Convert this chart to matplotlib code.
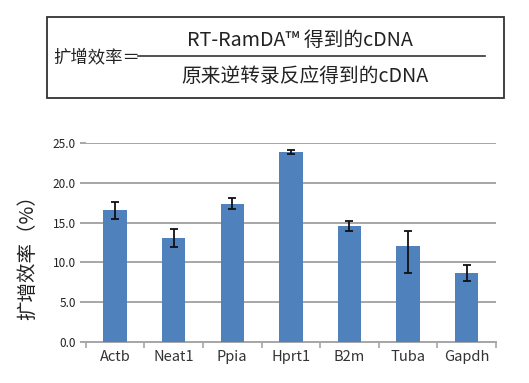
import matplotlib
matplotlib.use("Agg")
import matplotlib.pyplot as plt
from matplotlib.patches import Rectangle
from matplotlib.lines import Line2D
from matplotlib.ticker import FixedLocator

plt.rcParams["font.family"] = ["Noto Sans CJK SC", "DejaVu Sans"]

genes = ["Actb", "Neat1", "Ppia", "Hprt1", "B2m", "Tuba", "Gapdh"]
efficiency = [16.6, 13.1, 17.4, 23.9, 14.6, 12.0, 8.7]
err_low = [1.1, 1.15, 0.7, 0.3, 0.6, 3.4, 1.0]
err_high = [1.05, 1.15, 0.7, 0.3, 0.6, 1.9, 1.0]
yticks = [0, 5, 10, 15, 20, 25]

W, H = 529, 383
fig = plt.figure(figsize=(W / 100, H / 100), dpi=100)

# formula box
fig.add_artist(Rectangle((47 / W, 1 - 98 / H), 457 / W, 81 / H, transform=fig.transFigure,
                         fill=False, edgecolor="#333333", linewidth=1.3))
fig.add_artist(Line2D([138 / W, 485 / W], [1 - 56 / H, 1 - 56 / H], transform=fig.transFigure,
                      color="#333333", linewidth=1.2))
fig.text(53 / W, 1 - 57 / H, "扩增效率＝", ha="left", va="center", fontsize=12.5, color="#222222")
fig.text(300 / W, 1 - 41 / H, "RT-RamDA™ 得到的cDNA", ha="center", va="center", fontsize=14.2, color="#222222")
fig.text(305 / W, 1 - 77 / H, "原来逆转录反应得到的cDNA", ha="center", va="center", fontsize=14.2, color="#222222")

# bar chart
ax = fig.add_axes([85.7 / W, 1 - 341.7 / H, (496 - 85.7) / W, (341.7 - 143.3) / H])
x = range(len(genes))
ax.bar(x, efficiency, width=0.4, color="#4F81BD", zorder=3,
       yerr=[err_low, err_high], capsize=3,
       error_kw=dict(ecolor="#111111", elinewidth=1.3, capthick=1.3, zorder=4))
ax.set_xlim(-0.5, len(genes) - 0.5)
ax.set_ylim(0, 25)
ax.set_yticks(yticks)
ax.set_yticklabels([f"{v:.1f}" for v in yticks], fontsize=8.5, color="#222222", fontweight="medium")
ax.yaxis.grid(True, color="#A6A6A6", linewidth=1.4, zorder=0)
ax.tick_params(axis="y", length=4, width=1.4, color="#A6A6A6", pad=3)

ax.set_xticks(list(x))
ax.set_xticklabels(genes, fontsize=10.5, color="#333333")
ax.tick_params(axis="x", which="major", length=0, pad=6)
ax.xaxis.set_minor_locator(FixedLocator([i - 0.5 for i in range(len(genes) + 1)]))
ax.tick_params(axis="x", which="minor", length=4, width=1.2, color="#A6A6A6")

for side in ["left", "right", "top"]:
    ax.spines[side].set_visible(False)
ax.spines["bottom"].set_color("#A6A6A6")
ax.spines["bottom"].set_linewidth(1.4)

fig.text(28 / W, 1 - 253 / H, "扩增效率（%）", rotation=90, ha="center", va="center",
         fontsize=14, color="#222222")

fig.savefig("out.png", dpi=100)
